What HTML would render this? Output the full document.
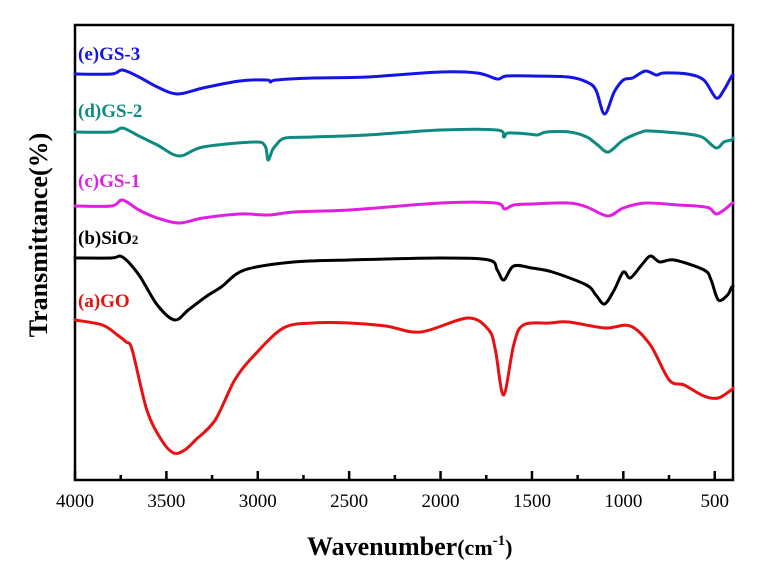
<!DOCTYPE html>
<html><head><meta charset="utf-8"><style>
html,body{margin:0;padding:0;background:#fff;}
svg{display:block;font-family:"Liberation Serif",serif;}
</style></head><body>
<svg id="chart" width="769" height="573" viewBox="0 0 769 573">
<rect x="75" y="25" width="658" height="455" fill="none" stroke="#000" stroke-width="2.5"/>
<g id="ticks"></g>
<g id="series"></g>
<text x="78" y="60" font-size="19" font-weight="bold" fill="#1414e6">(e)GS-3</text>
<text x="78" y="117" font-size="19" font-weight="bold" fill="#0e8a80">(d)GS-2</text>
<text x="78" y="187" font-size="19" font-weight="bold" fill="#e020e0">(c)GS-1</text>
<text x="78" y="244" font-size="19" font-weight="bold" fill="#000">(b)SiO<tspan font-size="13">2</tspan></text>
<text x="78" y="307" font-size="19" font-weight="bold" fill="#e81010">(a)GO</text>
<text x="307" y="555" font-size="26" font-weight="bold">Wavenumber<tspan font-size="22">(cm</tspan><tspan font-size="15" dy="-10">-1</tspan><tspan font-size="22" dy="10">)</tspan></text>
<text transform="translate(47,235) rotate(-90)" text-anchor="middle" font-size="26" font-weight="bold">Transmittance(%)</text>
</svg>
<script>
const xTicks = [4000,3500,3000,2500,2000,1500,1000,500];
const xMinorTicks = [3750,3250,2750,2250,1750,1250,750];
const goW = [4000,3850,3768,3720,3687,3607,3527,3460,3400,3340,3233,3126,3018,2860,2698,2500,2300,2109,1850,1736,1700,1655,1600,1547,1400,1300,1100,962,852,749,667,560,480,410,400];
const goV = [160,155,145,138,130,70,40,27,30,40,60,100,125,152,157,157,154,148,162,150,130,85,135,155,157,158,152,154,135,100,95,84,82,90,92];
const sio2W = [4000,3800,3740,3650,3550,3455,3380,3286,3200,3073,2805,2500,2003,1736,1690,1654,1600,1500,1388,1202,1150,1103,1050,1000,962,900,852,800,721,558,520,480,430,410,400];
const sio2V = [222,222,223,205,175,160,170,183,193,210,218,220,222,220,210,200,214,212,208,195,185,176,190,208,202,215,224,218,220,210,200,180,185,192,194];
const gs1W = [4000,3800,3740,3650,3550,3430,3300,3100,2940,2800,2500,2000,1700,1650,1600,1500,1300,1200,1085,1000,880,700,600,530,492,450,410,400];
const gs1V = [274,274,280,270,262,257,262,266,265,268,270,277,277,271,275,276,277,273,264,272,277,275,274,272,266,270,276,277];
const gs2W = [4000,3800,3740,3650,3550,3430,3300,3020,2960,2944,2920,2900,2850,2700,2400,2003,1690,1654,1630,1520,1469,1420,1294,1200,1140,1082,1000,900,852,700,612,560,492,450,410,400];
const gs2V = [348,348,352,344,335,324,333,338,334,320,330,335,342,343,345,350,350,343,347,346,345,348,348,343,335,328,340,348,349,347,345,342,332,338,340,342];
const gs3W = [4000,3800,3740,3650,3550,3440,3300,3100,2950,2930,2900,2700,2400,2000,1800,1710,1680,1640,1500,1300,1200,1150,1103,1050,1000,950,880,820,780,650,560,492,450,410,400];
const gs3V = [406,406,410,403,393,386,392,399,400,398,400,402,403,408,407,402,401,404,404,403,398,390,366,388,400,402,409,405,407,406,400,382,390,403,405];

function xS(w){ return 75 + (4000 - w) * (658/3600); }
function yS(v){ return 480 - v; }

const NS = 'http://www.w3.org/2000/svg';
const tg = document.getElementById('ticks');
xTicks.forEach(w => {
  const l = document.createElementNS(NS,'line');
  l.setAttribute('x1', xS(w)); l.setAttribute('x2', xS(w));
  l.setAttribute('y1', 480); l.setAttribute('y2', 471);
  l.setAttribute('stroke','#000'); l.setAttribute('stroke-width','2.5');
  
  
  tg.appendChild(l);
  const t = document.createElementNS(NS,'text');
  t.setAttribute('x', xS(w)); t.setAttribute('y', 507);
  t.setAttribute('text-anchor','middle'); t.setAttribute('font-size','19');
  t.textContent = w;
  
  
  tg.appendChild(t);
});
xMinorTicks.forEach(w => {
  const l = document.createElementNS(NS,'line');
  l.setAttribute('x1', xS(w)); l.setAttribute('x2', xS(w));
  l.setAttribute('y1', 480); l.setAttribute('y2', 475);
  l.setAttribute('stroke','#000'); l.setAttribute('stroke-width','2.5');
  
  
  tg.appendChild(l);
});

const sg = document.getElementById('series');
function draw(ws, vs, color, name){
  const pts = ws.map((w,i) => [xS(w), yS(vs[i])]);
  let d = 'M' + pts[0][0].toFixed(1) + ',' + pts[0][1].toFixed(1);
  const k = 0.16;
  for (let i = 0; i < pts.length - 1; i++) {
    const p0 = pts[Math.max(0,i-1)], p1 = pts[i], p2 = pts[i+1], p3 = pts[Math.min(pts.length-1,i+2)];
    const c1x = p1[0] + (p2[0]-p0[0])*k, c1y = p1[1] + (p2[1]-p0[1])*k;
    const c2x = p2[0] - (p3[0]-p1[0])*k, c2y = p2[1] - (p3[1]-p1[1])*k;
    d += 'C' + c1x.toFixed(1) + ',' + c1y.toFixed(1) + ' ' + c2x.toFixed(1) + ',' + c2y.toFixed(1) + ' ' + p2[0].toFixed(1) + ',' + p2[1].toFixed(1);
  }
  const p = document.createElementNS(NS,'path');
  p.setAttribute('d', d);
  p.setAttribute('fill','none'); p.setAttribute('stroke', color);
  p.setAttribute('stroke-width','3'); p.setAttribute('stroke-linejoin','round'); p.setAttribute('stroke-linecap','round');
  
  
  sg.appendChild(p);
}
draw(goW, goV, '#e81010', 'series-go');
draw(sio2W, sio2V, '#000000', 'series-sio2');
draw(gs1W, gs1V, '#e020e0', 'series-gs1');
draw(gs2W, gs2V, '#0e8a80', 'series-gs2');
draw(gs3W, gs3V, '#1414e6', 'series-gs3');
</script>
</body></html>
